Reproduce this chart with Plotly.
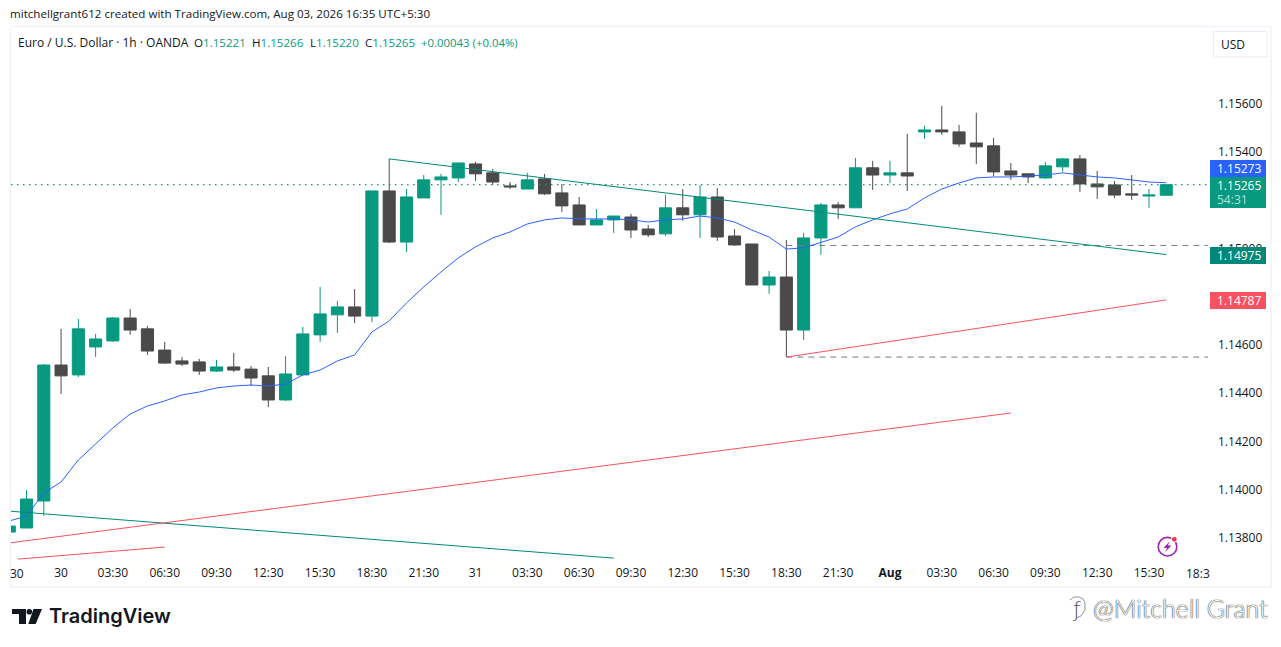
import pandas as pd
import plotly.graph_objects as go

# ---------- data ----------
times = pd.date_range("2026-07-29 21:30", periods=68, freq="h")

opens = [1.13824,1.13841,1.13953,1.14517,1.14476,1.14592,1.14617,1.14712,1.14667,1.14579,
         1.14534,1.14530,1.14492,1.14509,1.14500,1.14472,1.14372,1.14476,1.14642,1.14725,
         1.14758,1.14720,1.15239,1.15027,1.15210,1.15285,1.15293,1.15351,1.15314,1.15260,
         1.15247,1.15289,1.15231,1.15181,1.15098,1.15119,1.15131,1.15081,1.15061,1.15169,
         1.15140,1.15214,1.15052,1.15019,1.14849,1.14882,1.14662,1.15044,1.15181,1.15169,
         1.15335,1.15305,1.15314,1.15484,1.15492,1.15484,1.15438,1.15426,1.15322,1.15310,
         1.15293,1.15339,1.15372,1.15268,1.15264,1.15227,1.15218,1.15221]
highs = [1.13849,1.13998,1.14521,1.14667,1.14708,1.14646,1.14716,1.14749,1.14679,1.14613,
         1.14550,1.14542,1.14538,1.14567,1.14513,1.14509,1.14554,1.14675,1.14841,1.14783,
         1.14832,1.15239,1.15372,1.15247,1.15305,1.15310,1.15355,1.15359,1.15330,1.15276,
         1.15314,1.15310,1.15268,1.15214,1.15164,1.15135,1.15144,1.15098,1.15222,1.15247,
         1.15264,1.15251,1.15081,1.15019,1.14907,1.15036,1.15065,1.15189,1.15193,1.15376,
         1.15364,1.15364,1.15476,1.15509,1.15592,1.15513,1.15563,1.15459,1.15355,1.15310,
         1.15359,1.15376,1.15388,1.15322,1.15280,1.15305,1.15247,1.15266]
lows = [1.13824,1.13841,1.13891,1.14397,1.14467,1.14550,1.14613,1.14642,1.14559,1.14521,
        1.14513,1.14476,1.14488,1.14488,1.14430,1.14343,1.14368,1.14476,1.14613,1.14650,
        1.14691,1.14695,1.15023,1.14986,1.15210,1.15140,1.15276,1.15280,1.15264,1.15247,
        1.15247,1.15222,1.15152,1.15098,1.15098,1.15065,1.15044,1.15048,1.15052,1.15115,
        1.15044,1.15032,1.15011,1.14849,1.14812,1.14550,1.14621,1.14974,1.15123,1.15169,
        1.15243,1.15272,1.15239,1.15455,1.15471,1.15422,1.15351,1.15301,1.15285,1.15272,
        1.15289,1.15318,1.15235,1.15206,1.15210,1.15202,1.15169,1.15220]
closes = [1.13849,1.13961,1.14517,1.14472,1.14667,1.14625,1.14712,1.14662,1.14575,1.14525,
          1.14521,1.14492,1.14509,1.14496,1.14463,1.14372,1.14480,1.14646,1.14729,1.14758,
          1.14720,1.15239,1.15027,1.15214,1.15285,1.15297,1.15355,1.15310,1.15276,1.15256,
          1.15285,1.15227,1.15177,1.15098,1.15119,1.15135,1.15077,1.15057,1.15169,1.15140,
          1.15214,1.15048,1.15015,1.14849,1.14882,1.14662,1.15044,1.15181,1.15169,1.15335,
          1.15305,1.15314,1.15301,1.15492,1.15484,1.15434,1.15422,1.15318,1.15305,1.15297,
          1.15343,1.15372,1.15268,1.15256,1.15222,1.15222,1.15222,1.15265]
ema = [1.13870,1.13891,1.13986,1.14032,1.14123,1.14189,1.14256,1.14314,1.14347,1.14368,
       1.14393,1.14405,1.14422,1.14430,1.14434,1.14430,1.14438,1.14476,1.14496,1.14534,
       1.14559,1.14654,1.14700,1.14774,1.14841,1.14903,1.14961,1.15007,1.15044,1.15069,
       1.15102,1.15119,1.15127,1.15123,1.15123,1.15123,1.15119,1.15110,1.15119,1.15123,
       1.15135,1.15127,1.15110,1.15077,1.15048,1.14998,1.15003,1.15027,1.15048,1.15090,
       1.15119,1.15144,1.15164,1.15210,1.15247,1.15272,1.15293,1.15297,1.15297,1.15301,
       1.15305,1.15314,1.15305,1.15297,1.15293,1.15285,1.15276,1.15273]

trend_green_a_x = ["2026-07-30 19:30", "2026-08-01 16:30"]
trend_green_a_y = [1.15372, 1.14975]
trend_green_b_x = ["2026-07-29 21:30", "2026-07-31 08:30"]
trend_green_b_y = [1.13911, 1.13716]
trend_red_a_x = ["2026-07-31 18:30", "2026-08-01 16:30"]
trend_red_a_y = [1.14550, 1.14787]
trend_red_b_x = ["2026-07-29 21:30", "2026-08-01 07:30"]
trend_red_b_y = [1.13779, 1.14318]
trend_red_c_x = ["2026-07-29 22:00", "2026-07-30 06:30"]
trend_red_c_y = [1.13712, 1.13762]
level_high_x = ["2026-07-31 18:30", "2026-08-01 19:09"]
level_high_y = [1.15013, 1.15013]
level_low_x = ["2026-07-31 18:30", "2026-08-01 19:00"]
level_low_y = [1.14550, 1.14550]
last_x = ["2026-07-29 21:36", "2026-08-01 18:55"]
last_y = [1.15265, 1.15265]

time_ticks = ["2026-07-30 00:30","2026-07-30 03:30","2026-07-30 06:30","2026-07-30 09:30",
              "2026-07-30 12:30","2026-07-30 15:30","2026-07-30 18:30","2026-07-30 21:30",
              "2026-07-31 00:30","2026-07-31 03:30","2026-07-31 06:30","2026-07-31 09:30",
              "2026-07-31 12:30","2026-07-31 15:30","2026-07-31 18:30","2026-07-31 21:30",
              "2026-08-01 00:30","2026-08-01 03:30","2026-08-01 06:30","2026-08-01 09:30",
              "2026-08-01 12:30","2026-08-01 15:30"]
time_labels = ["30","03:30","06:30","09:30","12:30","15:30","18:30","21:30",
               "31","03:30","06:30","09:30","12:30","15:30","18:30","21:30",
               "<b>Aug</b>","03:30","06:30","09:30","12:30","15:30"]
price_ticks = [1.138,1.140,1.142,1.144,1.146,1.150,1.154,1.156]

# ---------- palette / layout constants ----------
GREEN = "#089981"
TEAL = "#00897b"
DARK = "#4a4a4a"
RED = "#f7525f"
BLUE = "#2962ff"
TEXT = "#131722"
FONT = "Open Sans"
L, R, T, B = 11, 1208, 27, 562
W, H = 1281, 647

def px(x):
    return (x - L) / (R - L)

def py(y):
    return (B - y) / (B - T)

fig = go.Figure()

def line(x, y, color, dash="solid", width=1, clip=True):
    fig.add_trace(go.Scatter(x=x, y=y, mode="lines", cliponaxis=clip, hoverinfo="skip",
                             showlegend=False, line=dict(color=color, width=width, dash=dash)))

line(last_x, last_y, GREEN, "1.5px,4.5px", 1.3)
line(level_high_x, level_high_y, "#787b86", "6px,5px", clip=False)
line(level_low_x, level_low_y, "#787b86", "6px,5px", clip=False)
fig.add_trace(go.Candlestick(
    x=times, open=opens, high=highs, low=lows, close=closes, hoverinfo="skip", showlegend=False,
    whiskerwidth=0,
    increasing=dict(line=dict(color=GREEN, width=1), fillcolor=GREEN),
    decreasing=dict(line=dict(color=DARK, width=1), fillcolor=DARK)))
line(times, ema, BLUE)
line(trend_green_a_x, trend_green_a_y, TEAL)
line(trend_green_b_x, trend_green_b_y, TEAL)
line(trend_red_a_x, trend_red_a_y, RED)
line(trend_red_b_x, trend_red_b_y, RED)
line(trend_red_c_x, trend_red_c_y, RED)

shapes = []
annots = []

def rect(x0, y0, x1, y1, fill, line_color=None, lw=0, layer="above"):
    shapes.append(dict(type="rect", xref="paper", yref="paper", x0=px(x0), x1=px(x1),
                       y0=py(y0), y1=py(y1), fillcolor=fill, layer=layer,
                       line=dict(color=line_color or fill, width=lw)))

def text(x, y, s, color=TEXT, size=12, anchor="left", family=FONT, **kw):
    annots.append(dict(xref="paper", yref="paper", x=px(x), y=py(y), text=s, showarrow=False,
                       xanchor=anchor, yanchor="middle", borderpad=0, borderwidth=0,
                       font=dict(color=color, size=size, family=family, **kw)))

def path(points, fill="rgba(0,0,0,0)", color=None, lw=0, close=True):
    d = "M " + " L ".join(f"{px(a):.5f},{py(b):.5f}" for a, b in points) + (" Z" if close else "")
    shapes.append(dict(type="path", xref="paper", yref="paper", path=d, fillcolor=fill,
                       layer="above", line=dict(color=color or fill, width=lw)))

def circle(cx, cy, r, fill="rgba(0,0,0,0)", color=None, lw=0):
    shapes.append(dict(type="circle", xref="paper", yref="paper", x0=px(cx - r), x1=px(cx + r),
                       y0=py(cy + r), y1=py(cy - r), fillcolor=fill, layer="above",
                       line=dict(color=color or fill, width=lw)))

# frame
rect(10.5, 26.5, 1271, 587, "rgba(0,0,0,0)", "#f0f3fa", 1.5, "below")

# price tags
tags = [(160, 177, BLUE, "1.15273"), (177, 208, GREEN, "1.15265"),
        (247, 264, TEAL, "1.14975"), (292, 309, RED, "1.14787")]
for y0, y1, col, lab in tags:
    rect(1210, y0, 1266, y1, col)
    text(1238.5, y0 + 8.5, lab, "#ffffff", 12, "center", weight=500)
text(1232.5, 199.5, "54:31", "#b5e0d9", 12, "center", weight=500)

# USD button
shapes.append(dict(type="rect", xref="paper", yref="paper", x0=px(1213.5), x1=px(1267),
                   y0=py(57), y1=py(31.5), fillcolor="#ffffff", layer="above",
                   line=dict(color="#e9ecf2", width=1)))
text(1232.5, 45, "USD", TEXT, 12, "center")

# headline texts
text(10, 14, "mitchellgrant612 created with TradingView.com, Aug 03, 2026 16:35 UTC+5:30", TEXT, 11.6)
text(18, 42, "Euro / U.S. Dollar · 1h · OANDA", TEXT, 12)
for x, lab, val in [(194, "O", "1.15221"), (252, "H", "1.15266"), (309.5, "L", "1.15220"), (364.5, "C", "1.15265")]:
    text(x, 42, f'{lab}<span style="color:{GREEN}">{val}</span>', TEXT, 11.6)
text(421, 42, "+0.00043 (+0.04%)", GREEN, 11.4)

# clipped time labels
text(17, 573, "30", TEXT, 12, "center")
text(1198, 573, "18:3", TEXT, 12, "center")

# TradingView logo
path([(12, 609), (26, 609), (26, 624), (19, 624), (19, 614), (12, 614)], "#131722")
circle(29.3, 611.7, 2.8, "#131722")
path([(33.5, 609), (42, 609), (35.7, 624), (28.3, 624)], "#131722")
text(49, 616, "TradingView", "#131722", 20, family="Inter", weight=600)

# lightning badge
circle(1167.5, 546.7, 9.3, "rgba(0,0,0,0)", "#9c27b0", 1.6)
path([(1169.5, 541.5), (1163.5, 548), (1167, 548), (1165, 552), (1171.5, 545.5), (1168, 545.5)], "#9c27b0")
circle(1174.3, 539.3, 3.2, "#ffffff")
circle(1174.3, 539.3, 2.4, "#f23645")

# watermark
text(1093, 608, "@Mitchell Grant", "#ffffff", 25, family="Lato", weight=300,
     shadow="0 0 1px #222, 0 0 1px #222")
text(1076, 609, "ƒ", "#555555", 22, "center", family="DejaVu Sans", weight=300)
path([(1085, 603), (1083, 599), (1079, 597), (1074, 597), (1070, 600)], color="#777777", lw=0.8, close=False)
path([(1085, 603), (1085, 610), (1081, 616), (1076, 618)], color="#777777", lw=0.8, close=False)

fig.update_layout(
    width=W, height=H, autosize=False,
    margin=dict(l=L, r=W - R, t=T, b=H - B, pad=0),
    paper_bgcolor="#ffffff", plot_bgcolor="#ffffff",
    showlegend=False, hovermode=False, dragmode=False,
    boxgap=0.3, boxgroupgap=0,
    font=dict(family=FONT, size=12, color=TEXT),
    shapes=shapes, annotations=annots,
    xaxis=dict(type="date", range=["2026-07-29 21:36", "2026-08-01 18:55"],
               rangeslider=dict(visible=False), showgrid=False, zeroline=False, showline=False,
               tickmode="array", tickvals=time_ticks, ticktext=time_labels, ticks="",
               ticklabelstandoff=2, tickfont=dict(size=12, color=TEXT, family=FONT)),
    yaxis=dict(range=[1.13700, 1.15919], side="right", showgrid=False, zeroline=False, showline=False,
               tickmode="array", tickvals=price_ticks, tickformat=".5f", ticks="",
               ticklabelstandoff=9, tickfont=dict(size=12, color=TEXT, family=FONT)),
)

fig.write_html("out.html", config=dict(displayModeBar=False, staticPlot=True),
               post_script="document.body.style.margin='0';document.body.style.overflow='hidden';")
